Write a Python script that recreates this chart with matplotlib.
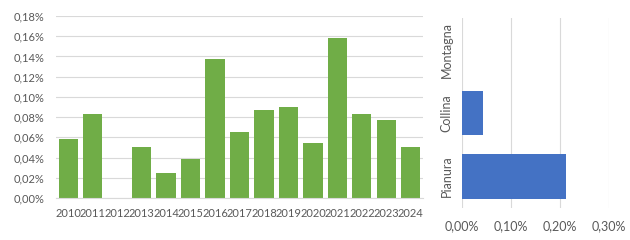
import matplotlib
matplotlib.use("Agg")
import matplotlib.pyplot as plt
from matplotlib.ticker import FuncFormatter

years = ["2010", "2011", "2012", "2013", "2014", "2015", "2016", "2017",
         "2018", "2019", "2020", "2021", "2022", "2023", "2024"]
year_values = [0.058, 0.083, 0.0, 0.050, 0.025, 0.039, 0.137, 0.065,
               0.087, 0.090, 0.054, 0.158, 0.083, 0.077, 0.050]

zones = ["Pianura", "Collina", "Montagna"]
zone_values = [0.212, 0.042, 0.0]

green = "#70AD47"
blue = "#4472C4"
grid_c = "#D9D9D9"
text_c = "#595959"

plt.rcParams['font.family'] = ['Lato', 'DejaVu Sans']

fig = plt.figure(figsize=(6.3, 2.4), dpi=100)

def pct(v, pos):
    return f"{v:.2f}%".replace(".", ",")

# Left chart
ax1 = fig.add_axes([56/630, 42/240, 367/630, 182/240])
x = list(range(len(years)))
ax1.bar(x, year_values, width=0.79, color=green, zorder=2)
ax1.set_xlim(-0.5, len(years) - 0.5)
ax1.set_ylim(0, 0.18)
ax1.set_yticks([i * 0.02 for i in range(10)])
ax1.yaxis.set_major_formatter(FuncFormatter(pct))
ax1.set_xticks(x)
ax1.set_xticklabels(years)
ax1.grid(axis='y', color=grid_c, linewidth=0.8, zorder=0)
for s in ['top', 'right', 'left']:
    ax1.spines[s].set_visible(False)
ax1.spines['bottom'].set_color(grid_c)
ax1.tick_params(axis='both', length=0, colors=text_c, labelsize=8)
ax1.tick_params(axis='x', pad=7, labelsize=8)
ax1.tick_params(axis='y', pad=8.5)

# Right chart
ax2 = fig.add_axes([462.3/630, 32/240, 147/630, 190/240])
y = list(range(len(zones)))
ax2.barh(y, zone_values, height=0.70, color=blue, zorder=2)
ax2.set_ylim(-0.5, len(zones) - 0.5)
ax2.set_xlim(0, 0.30)
ax2.set_xticks([0, 0.1, 0.2, 0.3])
ax2.xaxis.set_major_formatter(FuncFormatter(pct))
ax2.set_yticks(y)
ax2.set_yticklabels(zones, rotation=90, va='center')
ax2.grid(axis='x', color=grid_c, linewidth=0.8, zorder=0)
for s in ['top', 'right', 'left', 'bottom']:
    ax2.spines[s].set_visible(False)
ax2.tick_params(axis='both', length=0, colors=text_c, labelsize=9)
ax2.tick_params(axis='x', pad=9)
ax2.tick_params(axis='y', pad=7)

fig.savefig("out.png", dpi=100)
